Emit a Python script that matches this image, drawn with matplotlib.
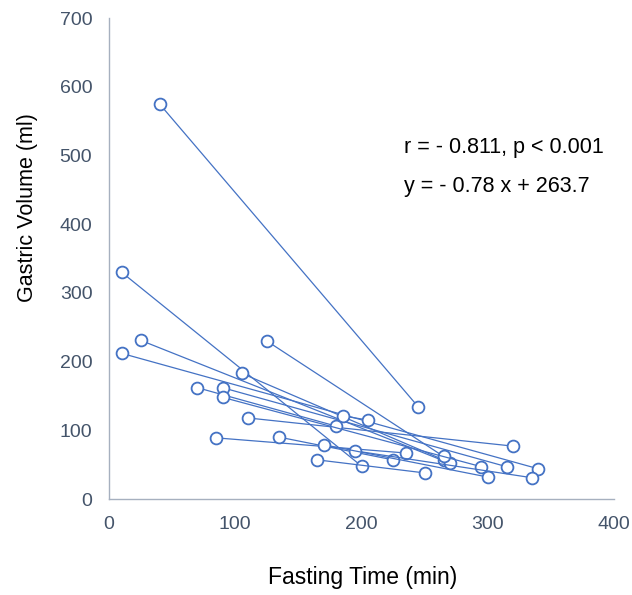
import matplotlib
matplotlib.use('Agg')  # no display
import matplotlib.pyplot as plt

plt.rcParams['font.family'] = ['Liberation Sans', 'DejaVu Sans']

# each patient: fasting time (min) and gastric volume (ml), start -> end
start_time = [40, 10, 105, 25, 10, 125, 110, 70, 90, 90, 85, 185, 135, 165, 195, 170]
start_vol = [575, 330, 183, 231, 212, 230, 118, 162, 162, 148, 89, 121, 90, 57, 70, 79]
end_time = [245, 200, 265, 270, 340, 265, 320, 180, 315, 295, 235, 205, 225, 250, 335, 300]
end_vol = [134, 48, 57, 52, 44, 62, 77, 106, 47, 47, 67, 115, 57, 38, 31, 32]

x_ticks = [0, 100, 200, 300, 400]
y_ticks = [0, 100, 200, 300, 400, 500, 600, 700]

stats_text = "r = - 0.811, p < 0.001"
fit_text = "y = - 0.78 x + 263.7"

blue = '#4472C4'
axis_col = '#A6B0BF'
tick_col = '#44546A'

fig = plt.figure(figsize=(6.32, 5.95), dpi=100)
ax = fig.add_axes([0.1725, 0.1613, 0.799, 0.8084])

for i in range(len(start_time)):
    ax.plot([start_time[i], end_time[i]], [start_vol[i], end_vol[i]],
            color=blue, linewidth=0.9, marker='o', markersize=8.5,
            markerfacecolor='white', markeredgecolor=blue, markeredgewidth=1.3)

ax.set_xlim(0, 400)
ax.set_ylim(0, 700)
ax.set_xticks(x_ticks)
ax.set_yticks(y_ticks)
ax.tick_params(length=0, labelsize=14, labelcolor=tick_col)
ax.tick_params(axis='x', pad=12)
ax.tick_params(axis='y', pad=12)

for side in ['top', 'right']:
    ax.spines[side].set_visible(False)
for side in ['left', 'bottom']:
    ax.spines[side].set_color(axis_col)
    ax.spines[side].set_linewidth(1.0)

xl = ax.set_xlabel("Fasting Time (min)", fontsize=16.5, color='black')
yl = ax.set_ylabel("Gastric Volume (ml)", fontsize=15.5, color='black')
xl.set_va('center')
yl.set_va('center')
ax.xaxis.set_label_coords(0.503, -0.164)
ax.yaxis.set_label_coords(-0.162, 0.605)

ax.text(234, 511, stats_text, fontsize=15.5, va='center', ha='left')
ax.text(234, 455, fit_text, fontsize=15.5, va='center', ha='left')

plt.savefig('out.png', dpi=100)
